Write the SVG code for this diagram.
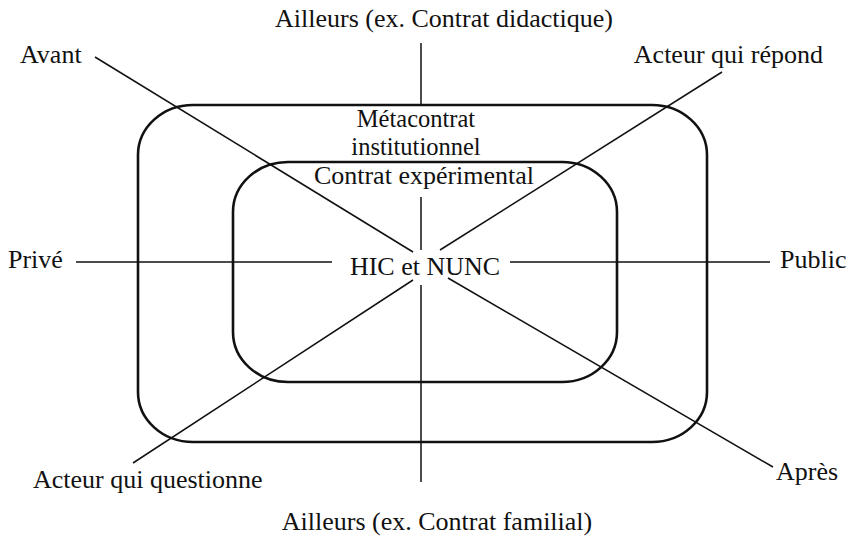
<svg xmlns="http://www.w3.org/2000/svg" width="855" height="539" viewBox="0 0 855 539">
<style>
text{font-family:"Liberation Serif","Times New Roman",serif;font-size:26px;fill:#111}
.meta{font-size:24.5px}
.box{fill:none;stroke:#111;stroke-width:2.6}
.ln{fill:none;stroke:#111;stroke-width:1.5}
</style>
<rect width="855" height="539" fill="#fff"/>
<g id="outer"><rect class="box" x="138" y="105" width="569" height="337" rx="55" ry="50"/></g>
<g id="inner"><rect class="box" x="233" y="162" width="384" height="220" rx="55" ry="50"/></g>
<g id="connectors">
<line class="ln" x1="421" y1="43" x2="421" y2="104"/>
<line class="ln" x1="421" y1="197" x2="421" y2="250"/>
<line class="ln" x1="421" y1="285" x2="421" y2="482"/>
<line class="ln" x1="76" y1="262" x2="332" y2="262"/>
<line class="ln" x1="510" y1="262" x2="770" y2="262"/>
<line class="ln" x1="95" y1="57" x2="413" y2="252"/>
<line class="ln" x1="448" y1="278" x2="773" y2="467"/>
<line class="ln" x1="722" y1="72" x2="440" y2="250"/>
<line class="ln" x1="413" y1="280" x2="133" y2="463"/>
</g>
<g id="labels">
<text x="444" y="27" text-anchor="middle">Ailleurs (ex. Contrat didactique)</text>
<text x="20" y="63">Avant</text>
<text x="823" y="63" text-anchor="end">Acteur qui répond</text>
<text class="meta" x="416" y="127" text-anchor="middle">Métacontrat</text>
<text class="meta" x="416" y="155" text-anchor="middle">institutionnel</text>
<text x="424" y="184" text-anchor="middle">Contrat expérimental</text>
<text x="425" y="275" text-anchor="middle">HIC et NUNC</text>
<text x="8" y="268">Privé</text>
<text x="780" y="268">Public</text>
<text x="33" y="488">Acteur qui questionne</text>
<text x="776" y="480">Après</text>
<text x="437" y="530" text-anchor="middle">Ailleurs (ex. Contrat familial)</text>
</g>
</svg>
